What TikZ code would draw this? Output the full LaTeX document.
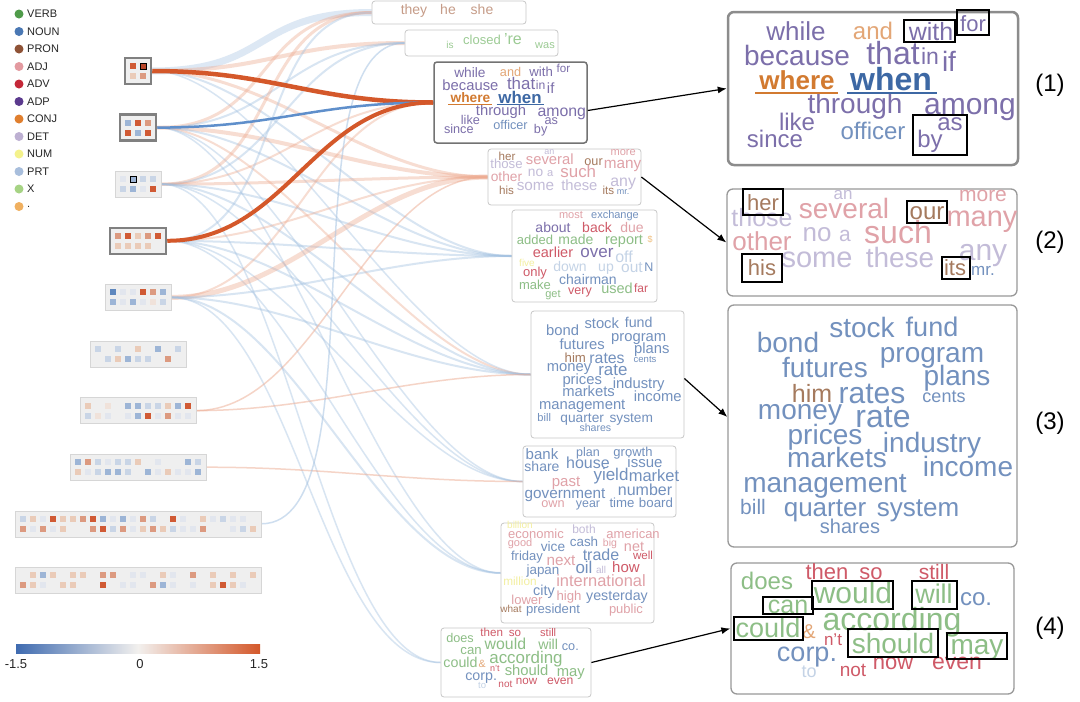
\documentclass[tikz,border=0pt]{standalone}
\usepackage{fontspec}
\setmainfont{Liberation Sans}
\usetikzlibrary{arrows.meta}
\pgfdeclarelayer{bg}
\pgfsetlayers{bg,main}
% cell colours
\definecolor{cR3}{HTML}{D05A34}
\definecolor{cD}{HTML}{B8462A}
\definecolor{cR2}{HTML}{DC9A80}
\definecolor{cR1}{HTML}{EACBB8}
\definecolor{cB3}{HTML}{5F88BE}
\definecolor{cB2}{HTML}{9DB5D6}
\definecolor{cB1}{HTML}{C9D5E6}
\definecolor{cF}{HTML}{E2E6EE}
\definecolor{cP}{HTML}{F0E2DA}
\definecolor{c0}{HTML}{EFEFEF}
% legend colours
\definecolor{lgVERB}{HTML}{4F9B4A}
\definecolor{lgNOUN}{HTML}{4A78B4}
\definecolor{lgPRON}{HTML}{8E5236}
\definecolor{lgADJ}{HTML}{E39AA0}
\definecolor{lgADV}{HTML}{C42838}
\definecolor{lgADP}{HTML}{5B3A8E}
\definecolor{lgCONJ}{HTML}{E07F2E}
\definecolor{lgDET}{HTML}{BDB0D2}
\definecolor{lgNUM}{HTML}{F4F28C}
\definecolor{lgPRT}{HTML}{A8BEDC}
\definecolor{lgX}{HTML}{A6D384}
\definecolor{lgDOT}{HTML}{F0B060}
% word colours
\definecolor{adpw}{HTML}{7C6FAA}
\definecolor{conjw}{HTML}{E3A676}
\definecolor{conjs}{HTML}{D27A30}
\definecolor{nounw}{HTML}{7391BE}
\definecolor{nouns}{HTML}{3D68A4}
\definecolor{adjw}{HTML}{E0A2A8}
\definecolor{detw}{HTML}{C3BCD8}
\definecolor{pronw}{HTML}{A57A5E}
\definecolor{pronl}{HTML}{C69C88}
\definecolor{verbw}{HTML}{8DBE86}
\definecolor{verbl}{HTML}{9CCB94}
\definecolor{advw}{HTML}{CF5A68}
\definecolor{prtw}{HTML}{C4D3E6}
\definecolor{numw}{HTML}{F3EFA0}
\definecolor{dotw}{HTML}{F0C080}
% flows
\definecolor{flb}{HTML}{9FBFE0}
\definecolor{flr}{HTML}{EDAA90}
\definecolor{hlr}{HTML}{D4582A}
\definecolor{hlb}{HTML}{5F8FCB}
\definecolor{cbblue}{HTML}{3F6BB0}
\definecolor{cbmid}{HTML}{F2F0EE}

\tikzset{
  word/.style={inner sep=0pt, anchor=base},
  mbox/.style={draw=black!22, line width=0.8pt, rounded corners=3pt, fill=white, inner sep=0pt},
  mboxdark/.style={draw=black!55, line width=1.5pt, rounded corners=3pt, fill=white, inner sep=0pt},
  rbox/.style={draw=black!40, line width=1.3pt, rounded corners=6pt, fill=white, inner sep=0pt},
  blkbox/.style={draw=black!16, line width=0.6pt, fill=c0, inner sep=0pt},
  framed/.style={draw=black!50, line width=2.5pt},
  hbox/.style={draw=black, line width=1.2pt},
  arr/.style={draw=black, line width=1.2pt, -{Latex[length=9pt,width=7pt]}},
  legdot/.style={circle, inner sep=0pt, minimum size=9pt},
  legtext/.style={inner sep=0pt, anchor=west, text=black!85, font=\fontsize{11}{12}\selectfont},
  plab/.style={inner sep=0pt, font=\fontsize{24}{24}\selectfont},
  cblab/.style={inner sep=0pt, font=\fontsize{13}{13}\selectfont, text=black!85}
}

\newcounter{wc}
\newcommand\w[6][]{\stepcounter{wc}\node[word, text=#5, font=\fontsize{#4}{#4}\selectfont#1] (w\arabic{wc}) at (#2,{#3+0.33*#4}) {#6};}

\newcommand\fl[5]{\draw[line width=#4, draw=#3, opacity=#5] (#1.east) .. controls +(120,0) and +(-120,0) .. (#2.west);}

\newcommand\blk[6]{%
  \node[blkbox,#6, minimum width={10*#2+6}, minimum height=26] (#1) at (138,#3+13) {};
  \foreach \cc [count=\i from 0] in {#4} {\fill[c\cc] (138-5*#2-3+5+10*\i, #3+5) rectangle ++(6,6);}
  \foreach \cc [count=\i from 0] in {#5} {\fill[c\cc] (138-5*#2-3+5+10*\i, #3+15) rectangle ++(6,6);}
}

\newcommand\cloudA{%
  \w{68}{20}{26}{adpw}{while}
  \w{145}{20}{24}{conjw}{and}
  \w{203}{20}{25}{adpw}{with}
  \w{245}{12}{22}{adpw}{for}
  \w{69}{44}{28}{adpw}{because}
  \w{165}{42}{32}{adpw}{that}
  \w{202}{45}{23}{adpw}{in}
  \w{221}{50}{28}{adpw}{if}
  \w[\bfseries]{69}{69}{26}{conjs}{where}
  \w[\bfseries]{163}{68}{32}{nouns}{when}
  \w{127}{92}{28}{adpw}{through}
  \w{242}{93}{30}{adpw}{among}
  \w{69}{111}{24}{adpw}{like}
  \w{47}{128}{24}{adpw}{since}
  \w{145}{120}{24}{nounw}{officer}
  \w{222}{111}{24}{adpw}{as}
  \w{202}{128}{24}{adpw}{by}
  \draw[conjs, line width=1.3pt] (27,81) -- (110,81);
  \draw[nouns, line width=1.3pt] (119,81) -- (209,81);
}
\newcommand\cloudB{%
  \w{36}{14}{22}{pronw}{her}
  \w{116}{5}{17}{detw}{an}
  \w{256}{6}{21}{adjw}{more}
  \w{35}{29}{25}{detw}{those}
  \w{117}{20}{28}{adjw}{several}
  \w{200}{23}{24}{pronw}{our}
  \w{255}{28}{29}{adjw}{many}
  \w{35}{53}{26}{adjw}{other}
  \w{90}{44}{26}{detw}{no}
  \w{118}{46}{21}{detw}{a}
  \w{171}{44}{32}{adjw}{such}
  \w{256}{62}{30}{detw}{any}
  \w{35}{79}{22}{pronw}{his}
  \w{90}{69}{29}{detw}{some}
  \w{173}{69}{28}{detw}{these}
  \w{228}{79}{22}{pronw}{its}
  \w{256}{81}{17}{nounw}{mr.}
}
\newcommand\cloudC{%
  \w{134}{23}{28}{nounw}{stock}
  \w{204}{23}{27}{nounw}{fund}
  \w{60}{38}{28}{nounw}{bond}
  \w{204}{48}{28}{nounw}{program}
  \w{97}{63}{28}{nounw}{futures}
  \w{229}{71}{28}{nounw}{plans}
  \w{84}{89}{25}{pronw}{him}
  \w{144}{89}{30}{nounw}{rates}
  \w{216}{92}{18}{nounw}{cents}
  \w{72}{105}{28}{nounw}{money}
  \w{155}{112}{32}{nounw}{rate}
  \w{97}{130}{28}{nounw}{prices}
  \w{204}{138}{28}{nounw}{industry}
  \w{109}{153}{28}{nounw}{markets}
  \w{240}{162}{28}{nounw}{income}
  \w{97}{178}{28}{nounw}{management}
  \w{25}{203}{21}{nounw}{bill}
  \w{97}{203}{26}{nounw}{quarter}
  \w{190}{203}{26}{nounw}{system}
  \w{122}{222}{20}{nounw}{shares}
}
\newcommand\cloudD{%
  \w{36}{19}{24}{verbw}{does}
  \w{96}{9}{22}{advw}{then}
  \w{140}{9}{22}{advw}{so}
  \w{203}{10}{21}{advw}{still}
  \w{57}{42}{25}{verbw}{can}
  \w{122}{31}{30}{verbw}{would}
  \w{203}{32}{27}{verbw}{will}
  \w{245}{35}{24}{nounw}{co.}
  \w{37}{66}{27}{verbw}{could}
  \w{78}{69}{20}{conjw}{\&}
  \w{161}{57}{32}{verbw}{according}
  \w{102}{77}{17}{advw}{n't}
  \w{162}{81}{28}{verbw}{should}
  \w{246}{82}{28}{verbw}{may}
  \w{76}{90}{27}{nounw}{corp.}
  \w{78}{109}{18}{prtw}{to}
  \w{122}{107}{19}{advw}{not}
  \w{162}{99}{22}{advw}{now}
  \w{226}{99}{23}{advw}{even}
}

\begin{document}
\begin{tikzpicture}[x=1pt,y=-1pt]
\useasboundingbox (0,0) rectangle (1080,702);
\begin{pgfonlayer}{bg}
\fill[white] (0,0) rectangle (1080,702);
\end{pgfonlayer}

% ---------- legend ----------
\foreach \lab/\col [count=\i from 0] in {VERB/lgVERB,NOUN/lgNOUN,PRON/lgPRON,ADJ/lgADJ,ADV/lgADV,ADP/lgADP,CONJ/lgCONJ,DET/lgDET,NUM/lgNUM,PRT/lgPRT,X/lgX,./lgDOT}{
  \node[legdot, fill=\col] (ld\i) at (19,14+17.5*\i) {};
  \node[legtext] (lt\i) at (27,14+17.5*\i) {\lab};
}

% ---------- left blocks ----------
\blk{b1}{2}{58}{R3,D}{R1,R2}{framed}
\blk{b2}{3}{114.6}{B2,R3,R2}{R3,B2,R3}{framed}
\blk{b3}{4}{171.2}{F,B2,B1,B1}{B1,B2,F,R3}{}
\blk{b4}{5}{227.8}{R2,R3,R1,R2,R3}{R1,R1,R1,R1,0}{framed}
\blk{b5}{6}{284.4}{B3,F,F,R3,R2,B2}{B2,F,B2,F,P,B1}{}
\blk{b6}{9}{341}{B1,0,B1,0,R1,0,B2,0,B1}{0,B1,R1,B2,B1,B1,0,R2,0}{}
\blk{b7}{11}{397.6}{R1,0,P,0,B2,B2,B1,B1,R1,B2,R3}{B1,P,F,0,F,B2,R3,F,R2,F,F}{}
\blk{b8}{13}{454.2}{B2,R2,B1,F,B1,B1,R1,0,F,0,0,B2,B1}{R1,F,B1,B2,B2,B1,0,B2,F,R1,F,F,B2}{}
\blk{b9}{24}{510.8}{B1,R1,F,R3,R1,R1,R2,R3,B2,F,B2,F,R2,B1,0,R3,F,0,R1,F,B1,F,F,0}{R2,F,R2,F,R1,0,0,R2,R3,B1,R2,F,R1,R2,R1,B1,F,F,R2,0,0,F,B1,R1}{}
\blk{b10}{24}{567.4}{0,R1,B2,R1,0,R1,R1,0,R2,R2,0,F,F,0,R1,F,0,R2,0,R1,0,R1,0,R1}{R2,R1,F,0,R1,R1,0,0,R3,0,F,F,0,R2,B2,F,0,F,0,R1,R3,R1,F,0}{}
\draw[black, line width=1pt] (140,63) rectangle ++(6,6);
\draw[black, line width=1pt] (130,176.2) rectangle ++(6,6);

% ---------- middle boxes ----------
\node[mbox, minimum width=154, minimum height=23] (m1) at (449,12.5) {};
\node[mbox, minimum width=153, minimum height=26] (m2) at (481.5,43) {};
\node[mboxdark, minimum width=153, minimum height=81] (m3) at (510.5,102.5) {};
\node[mbox, minimum width=153, minimum height=56] (m4) at (564.5,177) {};
\node[mbox, minimum width=145, minimum height=92] (m5) at (584.5,256) {};
\node[mbox, minimum width=153, minimum height=127] (m6) at (607.5,374.5) {};
\node[mbox, minimum width=153, minimum height=71] (m7) at (599.5,481.5) {};
\node[mbox, minimum width=153, minimum height=100] (m8) at (577.5,573) {};
\node[mbox, minimum width=150, minimum height=69] (m9) at (516,662.5) {};

% ---------- flows ----------
\begin{pgfonlayer}{bg}
\fl{b1}{m1}{flb}{7}{0.35}
\fl{b1}{m2}{flr}{4}{0.4}
\fl{b1}{m4}{flr}{3}{0.4}
\fl{b1}{m5}{flb}{2}{0.4}
\fl{b1}{m6}{flb}{1.5}{0.4}
\fl{b2}{m1}{flr}{3}{0.4}
\fl{b2}{m2}{flb}{2}{0.4}
\fl{b2}{m4}{flr}{4}{0.4}
\fl{b2}{m5}{flb}{2}{0.4}
\fl{b2}{m6}{flr}{2}{0.4}
\fl{b2}{m7}{flb}{1.5}{0.4}
\fl{b2}{m8}{flb}{1.5}{0.4}
\fl{b3}{m1}{flr}{3}{0.4}
\fl{b3}{m2}{flb}{2}{0.4}
\fl{b3}{m3}{flr}{2}{0.4}
\fl{b3}{m4}{flr}{3}{0.4}
\fl{b3}{m5}{flb}{2}{0.4}
\fl{b3}{m6}{flb}{2}{0.4}
\fl{b3}{m7}{flb}{1.5}{0.4}
\fl{b3}{m9}{flb}{1.5}{0.4}
\fl{b4}{m1}{flb}{2}{0.4}
\fl{b4}{m4}{flr}{2}{0.4}
\fl{b4}{m5}{flb}{2}{0.4}
\fl{b4}{m6}{flb}{2}{0.4}
\fl{b4}{m7}{flb}{1.5}{0.4}
\fl{b4}{m8}{flb}{1.5}{0.4}
\fl{b5}{m4}{flr}{5}{0.4}
\fl{b5}{m3}{flr}{2}{0.4}
\fl{b5}{m5}{flb}{2}{0.4}
\fl{b5}{m6}{flb}{2}{0.4}
\fl{b5}{m8}{flb}{2}{0.4}
\fl{b5}{m9}{flb}{1.5}{0.4}
\fl{b7}{m4}{flr}{1.5}{0.5}
\fl{b7}{m6}{flr}{1.5}{0.5}
\fl{b8}{m7}{flr}{1.5}{0.5}
\fl{b9}{m2}{flb}{1.5}{0.5}
\fl{b1}{m3}{hlr}{4.5}{1}
\fl{b2}{m3}{hlb}{2.5}{1}
\fl{b4}{m3}{hlr}{4}{1}
\end{pgfonlayer}

% ---------- middle clouds ----------
\w{414}{10}{14}{pronl}{they}
\w{448}{10}{14}{pronl}{he}
\w{482}{10}{14}{pronl}{she}

\w{450}{45}{10}{verbl}{is}
\w{482}{40}{13}{verbl}{closed}
\w{513}{39}{16}{verbl}{'re}
\w{545}{45}{11}{verbl}{was}

\begin{scope}[shift={(434,62)}, scale=0.528, transform shape]\cloudA\end{scope}
\begin{scope}[shift={(488,149)}, scale=0.528, transform shape]\cloudB\end{scope}
\begin{scope}[shift={(531,311)}, scale=0.528, transform shape]\cloudC\end{scope}
\begin{scope}[shift={(441,628)}, scale=0.528, transform shape]\cloudD\end{scope}

% M5
\w{571}{215}{11}{adjw}{most}
\w{615}{215}{11}{nounw}{exchange}
\w{553}{228}{14}{adpw}{about}
\w{597}{228}{14}{advw}{back}
\w{632}{228}{14}{adjw}{due}
\w{535}{240}{13}{verbw}{added}
\w{576}{240}{14}{verbw}{made}
\w{624}{240}{14.5}{verbw}{report}
\w{650}{240}{9}{dotw}{\$}
\w{553}{253}{14.5}{advw}{earlier}
\w{597}{252}{17}{adpw}{over}
\w{624}{257}{16}{prtw}{off}
\w{527}{263}{10}{numw}{five}
\w{535}{272}{13}{advw}{only}
\w{570}{267}{14}{prtw}{down}
\w{606}{267}{14}{prtw}{up}
\w{632}{267}{15.5}{prtw}{out}
\w{649}{267}{12.5}{nounw}{N}
\w{588}{280}{14}{nounw}{chairman}
\w{535}{285}{13}{verbw}{make}
\w{553}{294}{11}{verbw}{get}
\w{580}{290}{12.5}{advw}{very}
\w{617}{289}{14.5}{verbw}{used}
\w{641}{289}{12}{advw}{far}

% M7
\w{542}{455}{15}{nounw}{bank}
\w{588}{452}{12.5}{nounw}{plan}
\w{633}{452}{13}{nounw}{growth}
\w{542}{467}{14}{nounw}{share}
\w{588}{463}{16}{nounw}{house}
\w{645}{463}{15}{nounw}{issue}
\w{611}{475}{17}{nounw}{yield}
\w{654}{476}{16.5}{nounw}{market}
\w{566}{482}{15}{adjw}{past}
\w{645}{490}{16}{nounw}{number}
\w{565}{493}{15.3}{nounw}{government}
\w{553}{503}{12.7}{adjw}{own}
\w{588}{503}{12.4}{nounw}{year}
\w{622}{503}{13.2}{nounw}{time}
\w{656}{503}{13.3}{nounw}{board}

% M8
\w{520}{525}{10}{numw}{billion}
\w{536}{534}{13}{adjw}{economic}
\w{584}{530}{12}{detw}{both}
\w{633}{534}{13}{adjw}{american}
\w{520}{543}{11}{adjw}{good}
\w{553}{547}{13.7}{nounw}{vice}
\w{584}{542}{13.4}{nounw}{cash}
\w{610}{543}{10.5}{adjw}{big}
\w{634}{547}{14.4}{adjw}{net}
\w{527}{556}{13}{nounw}{friday}
\w{561}{560}{15.3}{adjw}{next}
\w{601}{555}{16}{nounw}{trade}
\w{643}{556}{11.6}{advw}{well}
\w{543}{570}{13.4}{nounw}{japan}
\w{584}{568}{17}{nounw}{oil}
\w{601}{570}{10}{detw}{all}
\w{626}{568}{15}{advw}{how}
\w{520}{582}{11.8}{numw}{million}
\w{601}{581}{16.4}{adjw}{international}
\w{544}{591}{14.4}{nounw}{city}
\w{569}{596}{13.2}{adjw}{high}
\w{617}{596}{14.2}{nounw}{yesterday}
\w{527}{600}{13}{adjw}{lower}
\w{511}{609}{10}{pronw}{what}
\w{553}{609}{13.1}{nounw}{president}
\w{626}{609}{13}{adjw}{public}

% ---------- right panels ----------
\node[rbox, line width=2.5pt, draw=black!45, minimum width=290, minimum height=153] (r1) at (873,88.5) {};
\node[rbox, minimum width=290, minimum height=107] (r2) at (872,242.5) {};
\node[rbox, minimum width=289, minimum height=242] (r3) at (872.5,426) {};
\node[rbox, minimum width=283, minimum height=131] (r4) at (872.5,628.5) {};

\begin{scope}[shift={(728,12)}]\cloudA\end{scope}
\begin{scope}[shift={(727,189)}]\cloudB\end{scope}
\begin{scope}[shift={(728,305)}]\cloudC\end{scope}
\begin{scope}[shift={(731,563)}]\cloudD\end{scope}

% highlight frames
\draw[hbox] (904,20) rectangle (955,42);
\draw[hbox] (957,10) rectangle (989,35);
\draw[hbox] (913,115) rectangle (967,155);
\draw[hbox] (743,189) rectangle (783,215);
\draw[hbox] (907,201) rectangle (947,223);
\draw[hbox] (742,254) rectangle (782,282);
\draw[hbox] (942,257) rectangle (970,279);
\draw[hbox] (763,597) rectangle (813,614);
\draw[hbox] (812,581) rectangle (893,609);
\draw[hbox] (912,581) rectangle (957,609);
\draw[hbox] (734,617) rectangle (803,640);
\draw[hbox] (848,629) rectangle (938,657);
\draw[hbox] (947,633) rectangle (1007,659);

% panel labels
\node[plab] (lab1) at (1050,85) {(1)};
\node[plab] (lab2) at (1050,242) {(2)};
\node[plab] (lab3) at (1050,423) {(3)};
\node[plab] (lab4) at (1050,628) {(4)};

% arrows
\draw[arr] ([yshift=-8pt]m3.east) -- (r1.west);
\draw[arr] (m4.east) -- (r2.west);
\draw[arr] ([yshift=-4pt]m6.east) -- ([yshift=9pt]r3.west);
\draw[arr] (m9.east) -- (r4.west);

% colour bar
\node[inner sep=0pt, minimum width=244, minimum height=9, left color=cbblue, right color=hlr, middle color=cbmid] (cbar) at (138,648.5) {};
\node[cblab] (cb1) at (16,664) {-1.5};
\node[cblab] (cb2) at (140,664) {0};
\node[cblab] (cb3) at (259,664) {1.5};
\end{tikzpicture}
\end{document}
